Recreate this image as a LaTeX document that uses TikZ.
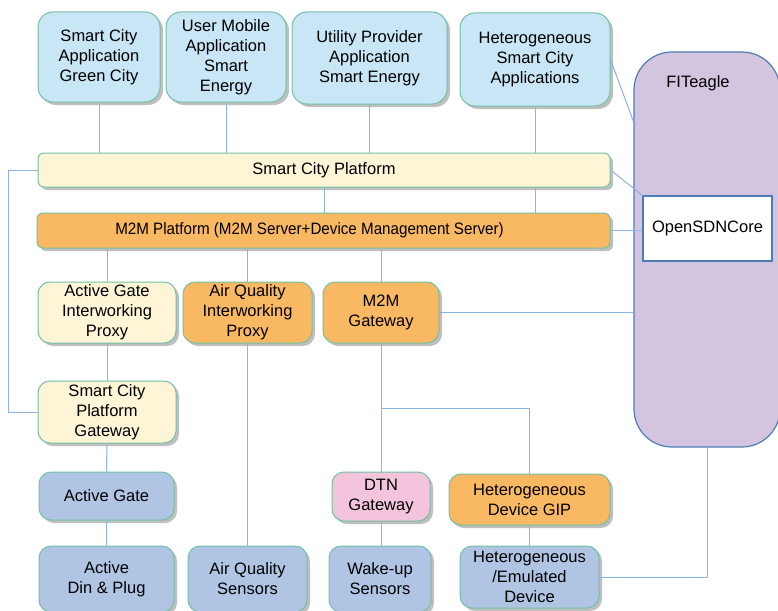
\documentclass[tikz,border=0pt]{standalone}
\usepackage{fontspec}
\usepackage{graphicx}
\setmainfont{Liberation Sans}
\usetikzlibrary{shadows,calc}
\definecolor{appfill}{HTML}{C8E6F5}
\definecolor{boxline}{HTML}{72C1A4}
\definecolor{creamfill}{HTML}{FDF5D5}
\definecolor{orangefill}{HTML}{F9B862}
\definecolor{bluefill}{HTML}{B0C4E4}
\definecolor{pinkfill}{HTML}{F4C4DD}
\definecolor{purplefill}{HTML}{D3C4E0}
\definecolor{purpleline}{HTML}{4E7DB5}
\definecolor{conn}{HTML}{8DB3E2}
\tikzset{
  base/.style={draw=boxline, line width=1pt, rounded corners=12pt, inner sep=0pt, align=center,
    font=\fontsize{16.5}{20}\selectfont,
    drop shadow={shadow xshift=3pt, shadow yshift=-3pt, opacity=0.25, fill=black}},
  appbox/.style={base, fill=appfill, rounded corners=15pt},
  creambox/.style={base, fill=creamfill},
  orangebox/.style={base, fill=orangefill},
  bluebox/.style={base, fill=bluefill},
  pinkbox/.style={base, fill=pinkfill},
  wire/.style={draw=conn, line width=1pt},
}
\begin{document}
\begin{tikzpicture}[x=1pt,y=-1pt]
\useasboundingbox (0,0) rectangle (778,610);
% FITeagle
\node[draw=purpleline, line width=1.2pt, fill=purplefill, rounded corners=38pt, minimum width=146pt, minimum height=395pt, inner sep=0pt] (fit) at (707,249.5) {};
\node[font=\fontsize{16.5}{20}\selectfont] (fitl) at (698,83) {FITeagle};
\node[draw=purpleline, line width=1.2pt, fill=white, minimum width=129pt, minimum height=65pt, inner sep=0pt, font=\fontsize{16.5}{20}\selectfont] (osdn) at (707.5,228.5) {OpenSDNCore};
% applications
\node[appbox, minimum width=122pt, minimum height=90pt] (gc) at (99,57) {Smart City\\Application\\Green City};
\node[appbox, minimum width=120pt, minimum height=90pt] (um) at (226,57) {User Mobile\\Application\\Smart\\Energy};
\node[appbox, minimum width=155pt, minimum height=92pt] (up) at (369.5,58) {Utility Provider\\Application\\Smart Energy};
\node[appbox, minimum width=150pt, minimum height=93pt] (hs) at (535,59.5) {Heterogeneous\\Smart City\\Applications};
% platforms
\node[creambox, rounded corners=6pt, minimum width=572pt, minimum height=34pt] (scp) at (324,170) {Smart City Platform};
\node[orangebox, rounded corners=6pt, minimum width=573pt, minimum height=35pt] (m2m) at (323.5,230.5) {\hspace*{-28pt}\scalebox{0.92}[1]{M2M Platform (M2M Server+Device Management Server)}};
% proxies / gateways
\node[creambox, minimum width=138pt, minimum height=61pt] (agip) at (107,312.5) {Active Gate\\Interworking\\Proxy};
\node[orangebox, minimum width=129pt, minimum height=61pt] (aqip) at (247.5,312.5) {Air Quality\\Interworking\\Proxy};
\node[orangebox, minimum width=116pt, minimum height=61pt] (m2mg) at (381,312.5) {M2M\\Gateway};
\node[creambox, minimum width=138pt, minimum height=62pt] (scpg) at (107,412) {Smart City\\Platform\\Gateway};
\node[bluebox, minimum width=135pt, minimum height=48pt] (ag) at (106.5,496) {Active Gate};
\node[pinkbox, minimum width=98pt, minimum height=49pt] (dtn) at (381,496.5) {DTN\\Gateway};
\node[orangebox, minimum width=161pt, minimum height=51pt] (gip) at (529.5,499.5) {Heterogeneous\\Device GIP};
% devices
\node[bluebox, minimum width=135pt, minimum height=66pt] (dp) at (106.5,579) {Active\\Din \& Plug};
\node[bluebox, minimum width=119pt, minimum height=66pt] (aqs) at (247.5,579) {Air Quality\\Sensors};
\node[bluebox, minimum width=102pt, minimum height=66pt] (wu) at (380,579) {Wake-up\\Sensors};
\node[bluebox, minimum width=139pt, minimum height=62pt] (hed) at (529.5,577) {Heterogeneous\\/Emulated\\Device};
% helper coordinates
\coordinate (lx) at (8,0);
\coordinate (br) at (381,408);
% connectors
\draw[wire] (gc.south) -- (gc.south |- scp.north);
\draw[wire] (um.south) -- (um.south |- scp.north);
\draw[wire] (up.south) -- (up.south |- scp.north);
\draw[wire] (hs.south) -- (hs.south |- scp.north);
\draw[wire] (scp.south) -- (scp.south |- m2m.north);
\draw[wire] (hs.south |- scp.south) -- (hs.south |- m2m.north);
\draw[wire] (hs.east) -- ($(fit.north west)+(0,70)$);
\draw[wire] (scp.east) -- (osdn.north west);
\draw[wire] (m2m.east) -- (osdn.west |- m2m.east);
\draw[wire] (scp.west) -- (scp.west -| lx) |- (scpg.west);
\draw[wire] (agip.north |- m2m.south) -- (agip.north);
\draw[wire] (aqip.north |- m2m.south) -- (aqip.north);
\draw[wire] (m2mg.north |- m2m.south) -- (m2mg.north);
\draw[wire] (agip.south) -- (scpg.north);
\draw[wire] (scpg.south) -- (ag.north);
\draw[wire] (ag.south) -- (dp.north);
\draw[wire] (aqip.south) -- (aqs.north);
\draw[wire] (m2mg.east) -- (fit.west |- m2mg.east);
\draw[wire] (m2mg.south) -- (dtn.north);
\draw[wire] (br) -| (gip.north);
\draw[wire] (dtn.south) -- (dtn.south |- wu.north);
\draw[wire] (gip.south) -- (hed.north);
\draw[wire] (hed.east) -| (fit.south);
\end{tikzpicture}
\end{document}
